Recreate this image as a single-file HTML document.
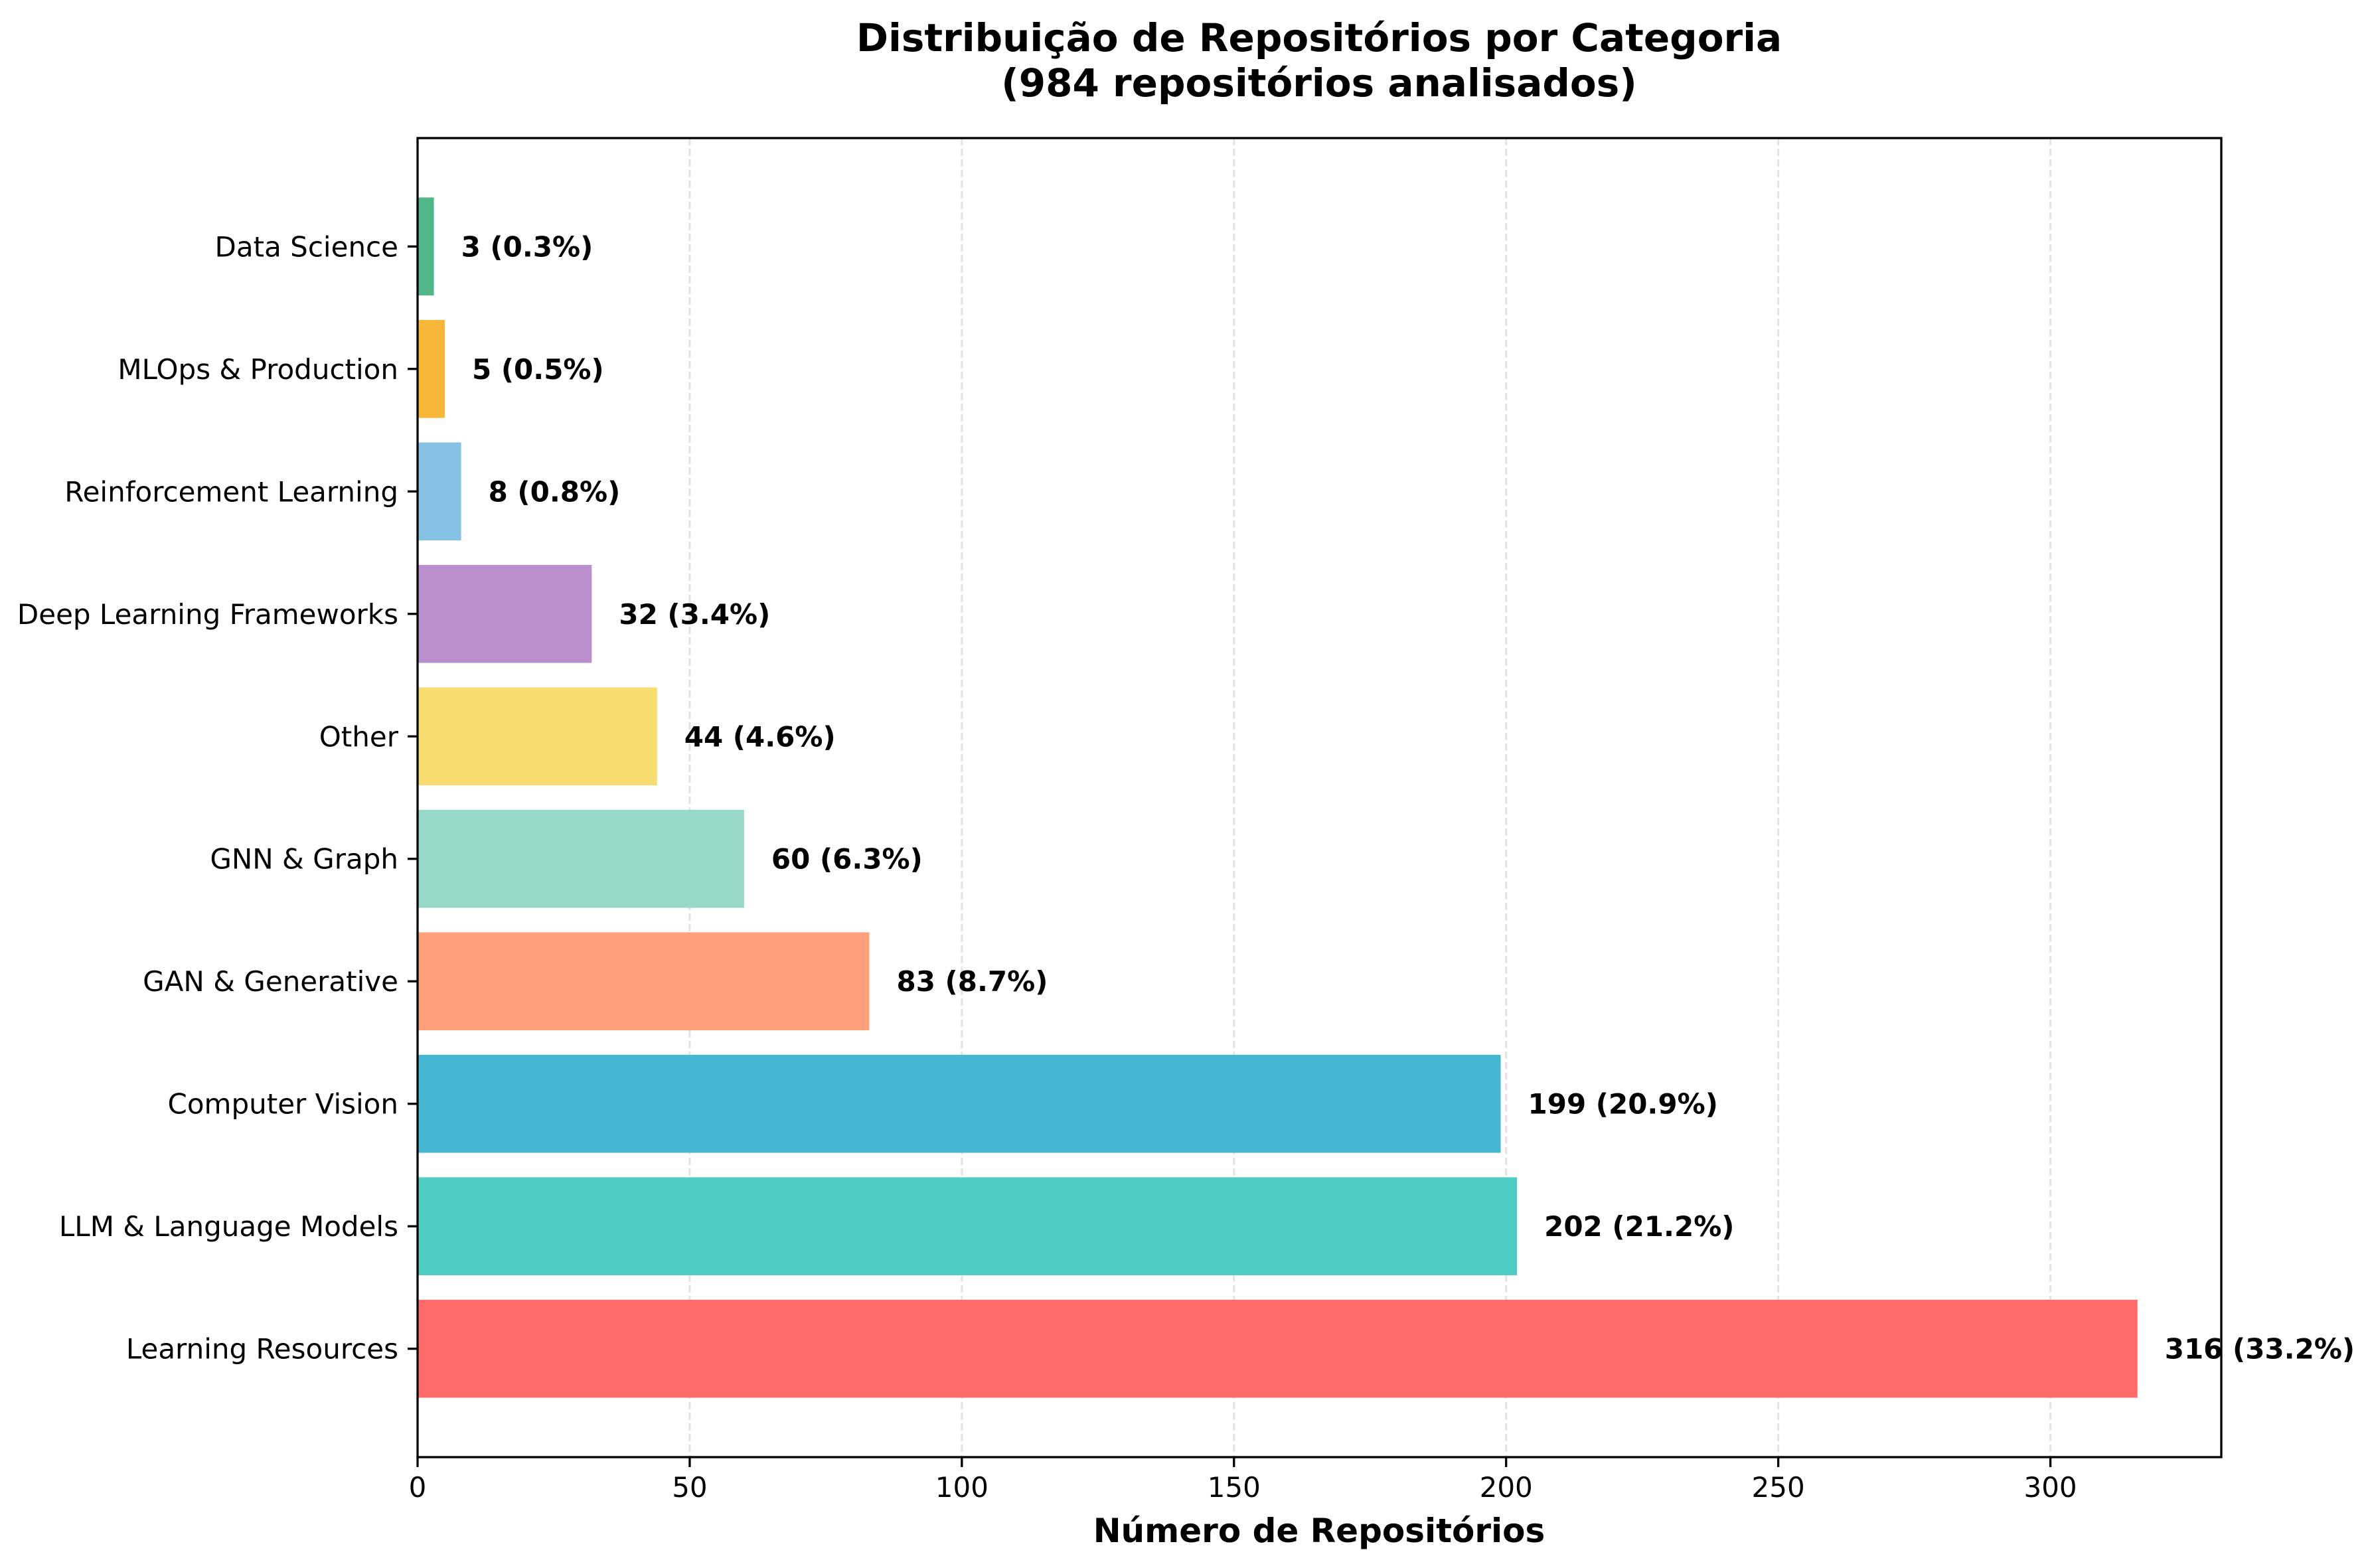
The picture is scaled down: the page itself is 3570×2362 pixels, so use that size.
<!DOCTYPE html>
<html><head><meta charset="utf-8"><style>
html,body{margin:0;padding:0;background:#fff;}
svg{display:block;font-family:"DejaVu Sans","Liberation Sans",sans-serif;}
</style></head><body>
<svg id="chart" width="3570" height="2362" viewBox="0 0 3570 2362" xmlns="http://www.w3.org/2000/svg">
<rect width="3570" height="2362" fill="#fff"/>
<text x="1987" y="77" text-anchor="middle" font-size="58" font-weight="bold">Distribuição de Repositórios por Categoria</text>
<text x="1987" y="145" text-anchor="middle" font-size="58" font-weight="bold">(984 repositórios analisados)</text>
<g id="grid"></g><g id="bars"></g><g id="labels"></g><g id="axes"></g>
<text x="1987" y="2323" text-anchor="middle" font-size="50" font-weight="bold">Número de Repositórios</text>
</svg>
<script>
const categories = ["Learning Resources","LLM & Language Models","Computer Vision","GAN & Generative","GNN & Graph","Other","Deep Learning Frameworks","Reinforcement Learning","MLOps & Production","Data Science"];
const counts = [316,202,199,83,60,44,32,8,5,3];
const percents = ["33.2%","21.2%","20.9%","8.7%","6.3%","4.6%","3.4%","0.8%","0.5%","0.3%"];
const colors = ["#FF6B6B","#4ECDC4","#45B7D1","#FFA07A","#98D8C8","#F7DC6F","#BB8FCE","#85C1E2","#F8B739","#52B788"];
const xTicks = [0,50,100,150,200,250,300];

const L=629,R=3346,T=208,B=2195;
const xMax=331.4, yMin=-0.885, yMax=9.885;
const NS="http://www.w3.org/2000/svg";
function x(v){return L+(v/xMax)*(R-L);}
function y(v){return B-(v-yMin)/(yMax-yMin)*(B-T);}
function mk(tag,attrs,parent,txt){const e=document.createElementNS(NS,tag);for(const k in attrs)e.setAttribute(k,attrs[k]);if(txt!==undefined)e.textContent=txt;document.getElementById(parent).appendChild(e);return e;}
const bh=0.8;
xTicks.forEach(t=>{
  if(t>0){const g=mk('line',{x1:x(t),x2:x(t),y1:T,y2:B,stroke:'#e3e3e3','stroke-width':3,'stroke-dasharray':'11 5'},'grid');
  
  }
  const tk=mk('line',{x1:x(t),x2:x(t),y1:B,y2:B+15,stroke:'#000','stroke-width':3.3},'axes');
  
  
  const tl=mk('text',{x:x(t),y:B+60,'text-anchor':'middle','font-size':42},'axes',String(t));
  
  
});
categories.forEach((c,i)=>{
  const r=mk('rect',{x:x(0),y:y(i+bh/2),width:x(counts[i])-x(0),height:y(i-bh/2)-y(i+bh/2),fill:colors[i]},'bars');
  
  
  const v=mk('text',{x:x(counts[i]+5),y:y(i)+15,'font-size':42,'font-weight':'bold'},'labels',counts[i]+' ('+percents[i]+')');
  
  
  const tk=mk('line',{x1:L-15,x2:L,y1:y(i),y2:y(i),stroke:'#000','stroke-width':3.3},'axes');
  
  
  const tl=mk('text',{x:L-29,y:y(i)+15,'text-anchor':'end','font-size':42},'axes',c);
  
  
});
const fr=mk('rect',{x:L,y:T,width:R-L,height:B-T,fill:'none',stroke:'#000','stroke-width':3.3},'axes');


</script>
</body></html>
